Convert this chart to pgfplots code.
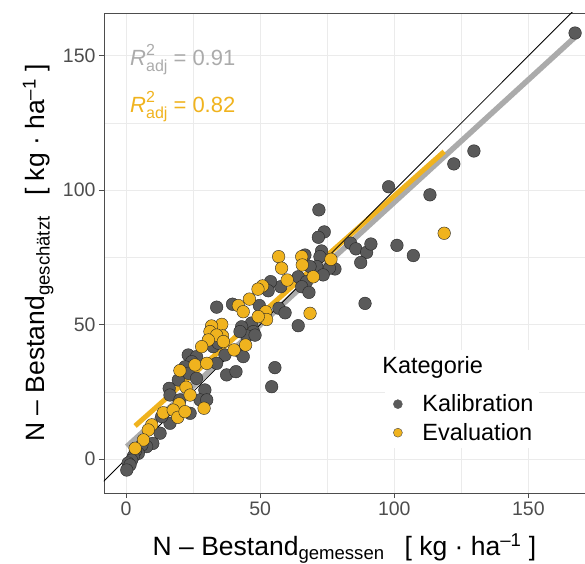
\documentclass[border=0pt]{standalone}
\usepackage{fontspec}
\setmainfont{Liberation Sans}
\usepackage{pgfplots}
\usepackage{pgfplotstable}
\pgfplotsset{compat=1.18}

\definecolor{kal}{HTML}{5A5A5A}
\definecolor{eva}{HTML}{F0B31E}
\definecolor{kalline}{HTML}{ABABAB}
\definecolor{gridc}{HTML}{EBEBEB}
\definecolor{tickc}{HTML}{4D4D4D}

% R^2 label: superscript and subscript stacked
\newcommand{\radj}{\textit{R}\rlap{\raisebox{10pt}{\fontsize{16}{18}\selectfont 2}}\raisebox{-6pt}{\fontsize{16}{18}\selectfont adj}}

% Kalibration: gemessen / geschaetzt
\pgfplotstableread{
x y
167.4 158.5
129.7 114.6
122.2 109.8
97.9 101.3
113.3 98.3
101.0 79.5
107.1 75.7
89.1 57.9
83.7 80.3
85.7 78.2
89.7 76.9
91.3 80.0
87.5 73.1
77.9 70.7
71.9 92.7
73.9 84.5
71.7 82.5
72.9 77.4
72.3 75.3
75.8 71.0
71.1 71.6
73.5 68.5
68.6 71.6
66.7 75.9
64.2 67.8
67.3 66.0
65.5 64.1
68.2 62.0
57.7 64.1
53.9 66.0
53.0 62.6
49.7 57.1
39.7 57.6
33.8 56.5
57.0 56.1
59.3 54.4
64.2 49.6
46.8 50.6
43.1 49.2
47.5 47.4
45.0 45.8
48.1 46.1
42.5 47.4
32.5 41.8
34.4 43.1
42.5 39.9
43.7 38.1
36.9 38.7
33.8 35.6
23.2 38.7
26.3 38.1
24.5 36.2
22.0 34.3
23.2 31.9
26.3 30.0
19.5 29.4
37.5 31.3
41.0 32.5
55.5 34.0
54.3 26.9
16.1 26.3
16.4 23.8
29.4 25.7
27.6 22.0
30.1 22.0
20.1 22.0
23.9 17.0
16.4 13.3
13.3 15.8
12.7 9.6
10.0 5.8
7.7 4.6
5.9 5.2
4.6 2.1
3.5 3.0
2.7 0.9
2.1 -0.4
0.8 -1.5
1.5 -2.2
0.3 -4.1
}\kalib

% Evaluation
\pgfplotstableread{
x y
118.6 84.0
76.4 74.3
69.8 67.8
65.5 75.3
65.7 72.2
56.9 75.3
58.0 71.0
60.1 66.6
50.9 64.4
49.2 63.2
46.0 59.5
41.9 57.1
43.7 54.8
52.1 54.8
52.4 51.9
68.6 54.2
49.3 53.0
35.7 50.1
31.9 49.5
31.3 47.4
36.0 45.8
33.8 46.1
30.7 44.3
28.2 41.8
36.3 43.7
40.3 40.6
44.6 42.4
25.7 35.0
30.1 35.6
20.1 32.9
22.4 26.7
23.9 23.8
29.1 18.9
19.8 20.5
13.9 17.2
17.6 18.2
19.3 15.5
22.0 17.6
9.6 12.7
8.3 10.8
6.5 7.1
3.4 4.0
}\evalu

\begin{document}
\begin{tikzpicture}
\begin{axis}[
  scale only axis,
  width=481pt, height=480pt,
  xmin=-8.2, xmax=171.1,
  ymin=-12.65, ymax=165.95,
  xtick={0,50,100,150}, ytick={0,50,100,150},
  minor xtick={25,75,125}, minor ytick={25,75,125},
  grid=both,
  major grid style={gridc, line width=0.9pt},
  minor grid style={gridc, line width=0.6pt},
  tick align=outside,
  xtick pos=bottom, ytick pos=left,
  major tick length=5pt, minor tick length=0pt,
  tick style={tickc, line width=0.8pt},
  axis line style={tickc, line width=0.8pt},
  ticklabel style={font=\fontsize{19.5}{22}\selectfont, text=tickc},
  /pgf/number format/assume math mode=true,
  xlabel={N – Bestand\textsubscript{gemessen}\hspace{20pt}[ kg · ha\textsuperscript{–1} ]},
  ylabel={N – Bestand\textsubscript{geschätzt}\hspace{20pt}[ kg · ha\textsuperscript{–1} ]},
  label style={font=\fontsize{26.5}{30}\selectfont},
  xlabel style={at={(axis description cs:0.5,-0.115)}, anchor=center},
  ylabel style={at={(axis description cs:-0.137,0.5)}, anchor=center, rotate=0},
  legend style={at={(axis cs:96.6,40.5)}, anchor=north west, draw=none, fill=white,
    font=\fontsize{23.5}{26}\selectfont, row sep=6pt, inner sep=4pt},
  legend cell align=left,
]
\coordinate (sw) at (rel axis cs:0,0);
\coordinate (ne) at (rel axis cs:1,1);

\addplot[only marks, mark=*, mark size=6.3pt, mark options={fill=kal, draw=black!85, line width=0.4pt}, forget plot]
  table[x=x, y=y] {\kalib};
\addplot[only marks, mark=*, mark size=6.3pt, mark options={fill=eva, draw=black!85, line width=0.4pt}, forget plot]
  table[x=x, y=y] {\evalu};

% Regressionsgeraden und 1:1-Linie
\addplot[kalline, line width=5.5pt, forget plot] coordinates {(0.3,4.6) (167.4,157.0)};
\addplot[eva, line width=5pt, forget plot] coordinates {(3.4,12.3) (118.6,114.4)};
\addplot[black, line width=0.8pt, forget plot] coordinates {(-20,-20) (180,180)};

\node[anchor=base west, text=kalline, font=\fontsize{22}{25}\selectfont, inner sep=0pt]
  at (axis cs:1.5,146.6) {\radj\ = 0.91};
\node[anchor=base west, text=eva, font=\fontsize{22}{25}\selectfont, inner sep=0pt]
  at (axis cs:1.5,128.8) {\radj\ = 0.82};

\addlegendimage{empty legend}
\addlegendentry{\hspace{-22pt}\raisebox{10pt}{Kategorie}}
\addlegendimage{only marks, mark=*, mark size=4.5pt, mark options={fill=kal, draw=kal}}
\addlegendentry{\hspace{18pt}Kalibration}
\addlegendimage{only marks, mark=*, mark size=4.5pt, mark options={fill=eva, draw=black!70, line width=0.4pt}}
\addlegendentry{\hspace{18pt}Evaluation}
\end{axis}
\pgfresetboundingbox
\path[use as bounding box] ([shift={(-104pt,-70pt)}]sw) rectangle ([shift={(0pt,13pt)}]ne);
\end{tikzpicture}
\end{document}
